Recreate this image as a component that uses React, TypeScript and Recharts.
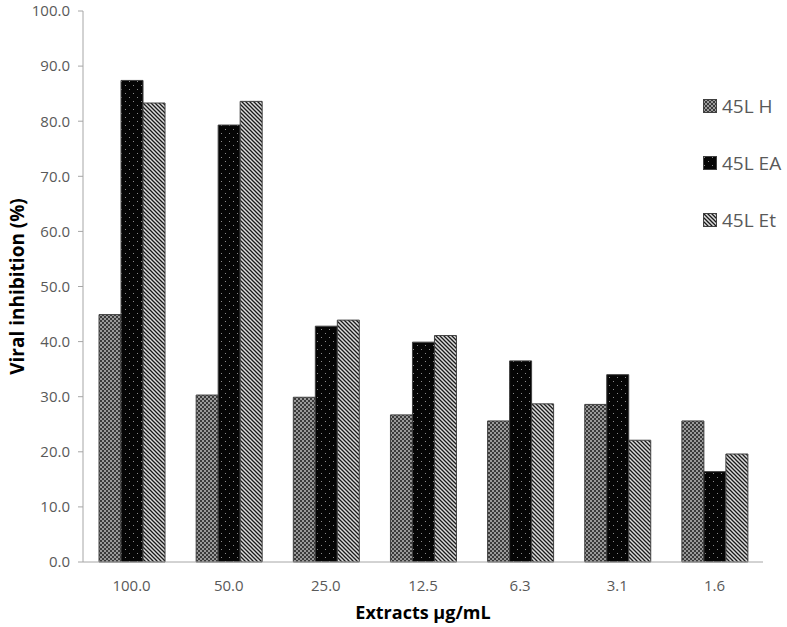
import { BarChart, Bar, XAxis, YAxis } from 'recharts';

const categories = ['100.0', '50.0', '25.0', '12.5', '6.3', '3.1', '1.6'];
const seriesH = [44.9, 30.3, 29.9, 26.7, 25.6, 28.6, 25.6];
const seriesEA = [87.4, 79.3, 42.8, 39.9, 36.5, 34.0, 16.4];
const seriesEt = [83.3, 83.6, 43.9, 41.1, 28.7, 22.1, 19.6];
const seriesNames = ['45L H', '45L EA', '45L Et'];
const yTicks = [0, 10, 20, 30, 40, 50, 60, 70, 80, 90, 100];

const data = categories.map((c, i) => ({
  name: c,
  h: seriesH[i],
  ea: seriesEA[i],
  et: seriesEt[i],
}));

const FONT = '"Open Sans", "Noto Sans", sans-serif';
const TEXT = '#595959';
const AXIS = '#a6a6a6';
const fills = ['url(#patH)', 'url(#patEA)', 'url(#patEt)'];

function Patterns() {
  return (
    <svg width={0} height={0} style={{ position: 'absolute' }}>
      <defs>
        <pattern id="patH" width={4} height={4} patternUnits="userSpaceOnUse">
          <rect width={4} height={4} fill="#9a9a9a" />
          <rect width={2} height={2} fill="#3a3a3a" />
          <rect x={2} y={2} width={2} height={2} fill="#3a3a3a" />
        </pattern>
        <pattern id="patEA" width={8} height={8} patternUnits="userSpaceOnUse">
          <rect width={8} height={8} fill="#050505" />
          <rect x={1} y={1} width={1} height={1} fill="#8a8a8a" />
          <rect x={5} y={5} width={1} height={1} fill="#8a8a8a" />
        </pattern>
        <pattern id="patEt" width={4} height={4} patternUnits="userSpaceOnUse">
          <rect width={4} height={4} fill="#dcdcdc" />
          <path d="M-1,-1 L5,5 M-1,3 L1,5 M3,-1 L5,1" stroke="#1a1a1a" strokeWidth={1.3} />
        </pattern>
      </defs>
    </svg>
  );
}

const YTitle = (props: any) => {
  const vb = props.viewBox;
  const cx = 17;
  const cy = vb.y + vb.height / 2;
  return (
    <text
      x={cx}
      y={cy}
      transform={`rotate(-90, ${cx}, ${cy})`}
      textAnchor="middle"
      dominantBaseline="central"
      fontFamily={FONT}
      fontWeight="bold"
      fontSize={19}
      fill="#000"
    >
      Viral inhibition (%)
    </text>
  );
};

export default function App() {
  return (
    <div style={{ position: 'absolute', left: 0, top: 0, width: 787, height: 627, background: '#fff' }}>
      <Patterns />
      <BarChart
        width={787}
        height={627}
        data={data}
        margin={{ top: 11, right: 24, left: 0, bottom: 0 }}
        barCategoryGap="16.5%"
        barGap={0}
      >
        <XAxis
          dataKey="name"
          height={65}
          stroke={AXIS}
          tickLine={false}
          tick={{ fill: TEXT, fontSize: 15, fontFamily: FONT }}
          tickMargin={12}
          label={{
            value: 'Extracts µg/mL',
            position: 'insideBottom',
            offset: 8,
            fill: '#000',
            fontSize: 18,
            fontWeight: 'bold',
            fontFamily: FONT,
          }}
        />
        <YAxis
          width={83}
          domain={[0, 100]}
          ticks={yTicks}
          interval={0}
          stroke={AXIS}
          tickSize={5}
          tickMargin={8}
          tickFormatter={(v: number) => v.toFixed(1)}
          tick={{ fill: TEXT, fontSize: 15, fontFamily: FONT }}
          label={<YTitle />}
        />
        <Bar dataKey="h" name={seriesNames[0]} fill={fills[0]} stroke="#404040" strokeWidth={1} isAnimationActive={false} />
        <Bar dataKey="ea" name={seriesNames[1]} fill={fills[1]} stroke="#404040" strokeWidth={1} isAnimationActive={false} />
        <Bar dataKey="et" name={seriesNames[2]} fill={fills[2]} stroke="#404040" strokeWidth={1} isAnimationActive={false} />
      </BarChart>
      <div style={{ position: 'absolute', left: 703, top: 94, fontFamily: FONT, fontSize: 19, color: TEXT }}>
        {seriesNames.map((n, i) => (
          <div key={n} style={{ display: 'flex', alignItems: 'center', height: 24, marginBottom: 33 }}>
            <svg width={14} height={14} style={{ marginRight: 5 }}>
              <rect x={0.5} y={0.5} width={13} height={13} fill={fills[i]} stroke="#404040" />
            </svg>
            <span style={{ whiteSpace: 'nowrap' }}>{n}</span>
          </div>
        ))}
      </div>
    </div>
  );
}
